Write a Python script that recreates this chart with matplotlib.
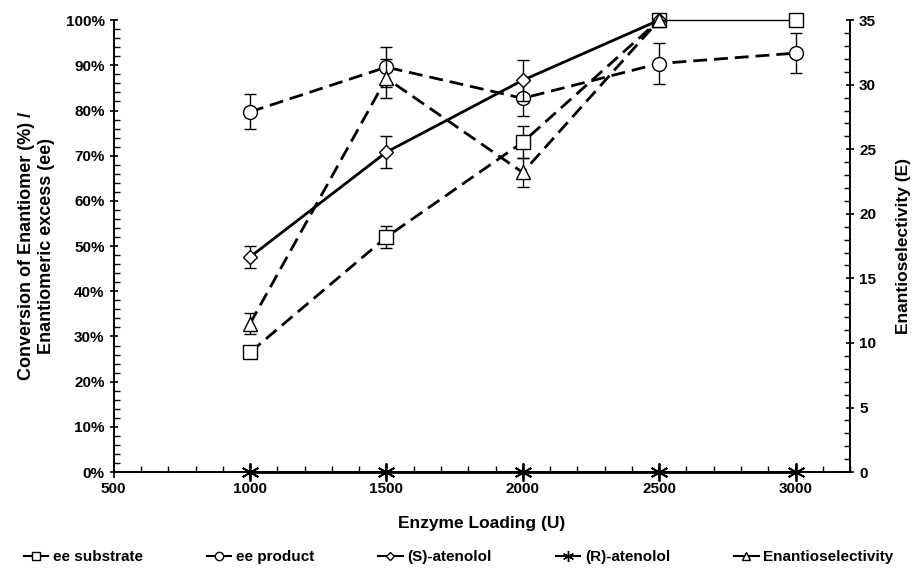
import numpy as np
import matplotlib
matplotlib.use("Agg")
import matplotlib.pyplot as plt
from matplotlib.ticker import MultipleLocator, FuncFormatter

plt.rcParams['font.family'] = ['Liberation Sans', 'DejaVu Sans']
plt.rcParams['font.weight'] = 'bold'

loading = [1000, 1500, 2000, 2500, 3000]

ee_substrate = [26.5, 52.0, 73.0, 100.0, 100.0]
ee_substrate_err = [1.0, 2.5, 3.6, 0.0, 0.0]
ee_product = [79.7, 89.6, 82.7, 90.4, 92.7]
ee_product_err = [3.9, 4.4, 4.0, 4.5, 4.5]
s_atenolol = [47.6, 70.8, 86.7, 100.0, 100.0]
s_atenolol_err = [2.5, 3.5, 4.5, 0.0, 0.0]
r_atenolol = [0, 0, 0, 0, 0]

e_loading = [1000, 1500, 2000, 2500]
enantio = [11.5, 30.5, 23.2, 35.0]
enantio_err = [0.8, 1.5, 1.1, 0.0]

fig = plt.figure(figsize=(9.17, 5.75), dpi=100)
ax = fig.add_axes([0.124, 0.179, 0.803, 0.786])
ax2 = ax.twinx()

dash = (0, (5, 2.5))
mk = dict(markersize=10, markerfacecolor='white', markeredgecolor='black', markeredgewidth=1.0)
eb = dict(ecolor='black', elinewidth=1.0, capsize=4, capthick=1.0)

def draw(a, x, y, err, ls, marker, **kw):
    c = a.errorbar(x, y, yerr=err, color='black', lw=2, ls=ls, marker=marker, **kw, **eb)
    for artist in c.get_children():
        artist.set_clip_on(False)

# ee substrate: dashed up to 2500, last point sits on the thin 100% line
draw(ax, loading[:4], ee_substrate[:4], ee_substrate_err[:4], dash, 's', zorder=3, **mk)
draw(ax, loading[4:], ee_substrate[4:], ee_substrate_err[4:], 'none', 's', zorder=3, **mk)
draw(ax, loading, ee_product, ee_product_err, dash, 'o', zorder=3, **mk)
draw(ax, loading[:4], s_atenolol[:4], s_atenolol_err[:4], '-', 'D', zorder=4, markersize=7,
     markerfacecolor='white', markeredgecolor='black', markeredgewidth=1.0)
ax.plot(loading[3:], s_atenolol[3:], color='black', lw=1, zorder=2, clip_on=False)
ax.plot(loading, r_atenolol, color='black', lw=2, marker=(6, 2, 0), markersize=13,
        markeredgewidth=1.3, clip_on=False, zorder=5)
draw(ax2, e_loading, enantio, enantio_err, dash, '^', zorder=3, **mk)

ax.set_xlim(500, 3200)
ax.set_ylim(0, 100)
ax2.set_ylim(0, 35)
ax.xaxis.set_major_locator(MultipleLocator(500))
ax.xaxis.set_minor_locator(MultipleLocator(100))
ax.yaxis.set_major_locator(MultipleLocator(10))
ax.yaxis.set_minor_locator(MultipleLocator(2))
ax2.yaxis.set_major_locator(MultipleLocator(5))
ax2.yaxis.set_minor_locator(MultipleLocator(1))
ax.yaxis.set_major_formatter(FuncFormatter(lambda v, p: f"{v:.0f}%"))

for a in (ax, ax2):
    a.spines['top'].set_visible(False)
    for s in a.spines.values():
        s.set_linewidth(1.2)
    a.tick_params(axis='both', which='major', length=6, width=1.2, labelsize=11, direction='inout')
    a.tick_params(axis='both', which='minor', length=4, width=1.0, direction='in')
ax.tick_params(axis='x', which='major', direction='inout', length=8)

ax.set_xlabel('Enzyme Loading (U)', fontsize=12.5, fontweight='bold', labelpad=14)
ax.set_ylabel('Conversion of Enantiomer (%) /\nEnantiomeric excess (ee)', fontsize=13,
              fontweight='bold', labelpad=8)
ax2.set_ylabel('Enantioselectivity (E)', fontsize=12.5, fontweight='bold', labelpad=14)

h = [
    plt.Line2D([], [], color='black', lw=1.5, marker='s', markersize=6, markerfacecolor='white'),
    plt.Line2D([], [], color='black', lw=1.5, marker='o', markersize=6, markerfacecolor='white'),
    plt.Line2D([], [], color='black', lw=1.5, marker='D', markersize=4, markerfacecolor='white'),
    plt.Line2D([], [], color='black', lw=1.5, marker=(6, 2, 0), markersize=8),
    plt.Line2D([], [], color='black', lw=1.5, marker='^', markersize=6, markerfacecolor='white'),
]
labels = ['ee substrate', 'ee product', '(S)-atenolol', '(R)-atenolol', 'Enantioselectivity']
fig.legend(h, labels, loc='lower center', ncol=5, frameon=False, fontsize=11,
           bbox_to_anchor=(0.5, -0.005), handlelength=1.6, columnspacing=4.2, handletextpad=0.3)

fig.savefig('out.png', dpi=100)
